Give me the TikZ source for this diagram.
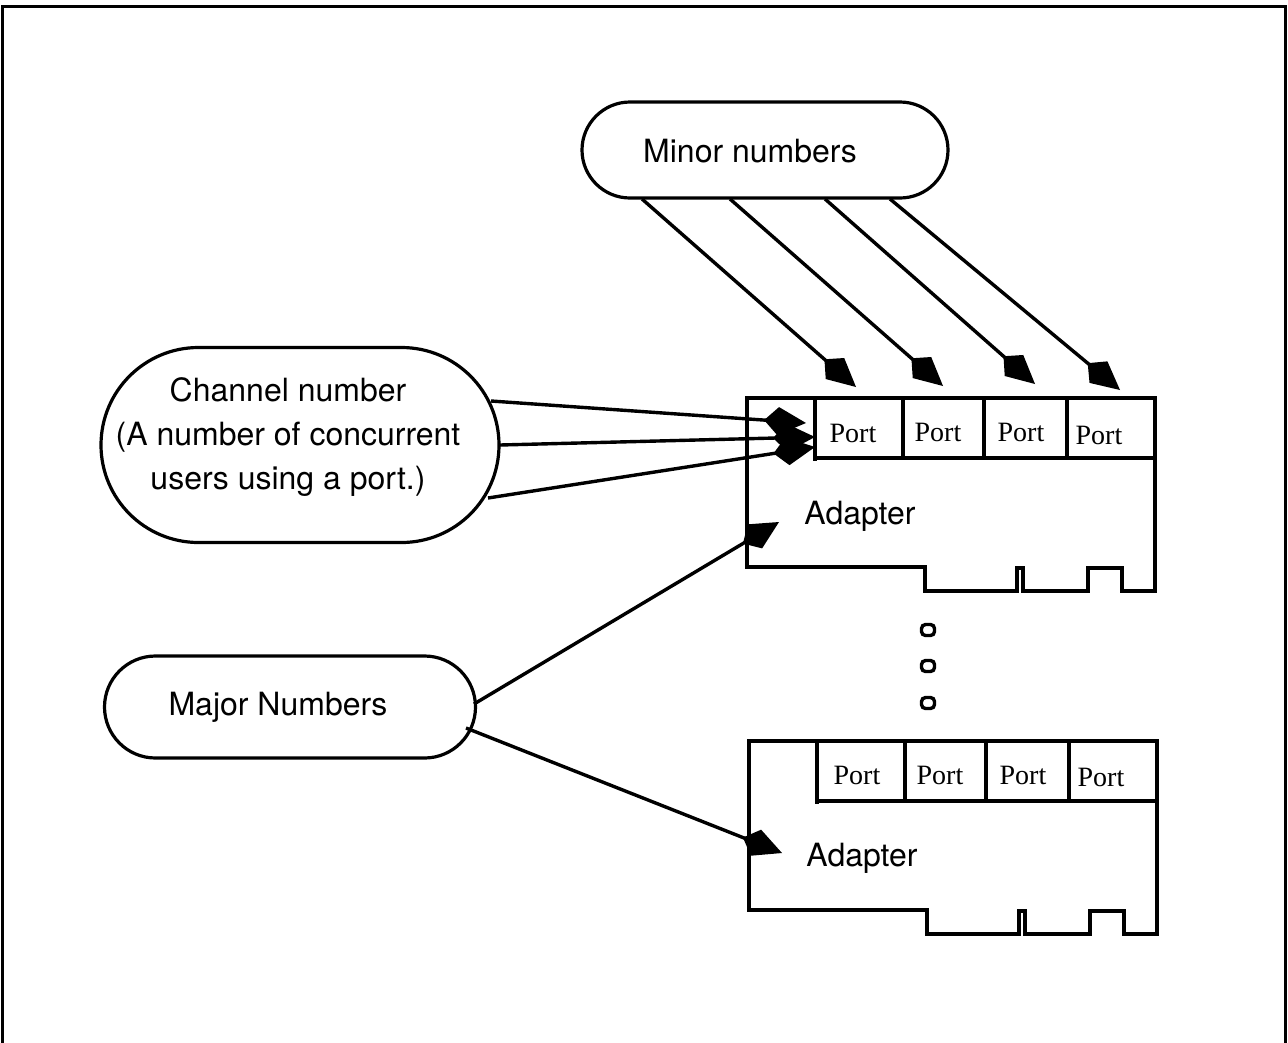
\documentclass[tikz,border=0pt]{standalone}
\usepackage{fontspec}
\setmainfont{TeX Gyre Heros}
\newfontfamily\portfont{Liberation Serif}
\usetikzlibrary{arrows.meta,shapes.misc}
\tikzset{
  blob/.style={draw, line width=3.2pt, rounded rectangle, inner sep=0pt},
  lbl/.style={font=\fontsize{32}{44}\selectfont, inner sep=0pt, align=center},
  portlbl/.style={font=\portfont\fontsize{28}{30}\selectfont, inner sep=0pt},
  arr/.style={line width=3.4pt, -{Kite[length=42pt,width=28pt,inset=14pt]}},
  boxline/.style={line width=3.2pt, line join=miter},
  dotbox/.style={draw, line width=3.4pt, rounded corners=4pt, minimum width=13pt, minimum height=11pt, inner sep=0pt},
}
\begin{document}
\begin{tikzpicture}[x=1pt,y=-1pt]
\useasboundingbox (0,0) rectangle (1288,1042);
% frame
\draw[line width=3pt] (2,1044) -- (2,6) -- (1285,6) -- (1285,1044);

% Minor numbers
\node[blob, minimum width=366pt, minimum height=96pt] (minor) at (765,150) {};
\node[lbl] (minortxt) at (750,151) {Minor numbers};

% Channel number
\node[blob, minimum width=398pt, minimum height=195pt] (chan) at (300,445) {};
\node[lbl] (chantxt) at (288,437) {Channel number\\(A number of concurrent\\users using a port.)};

% Major numbers
\node[blob, minimum width=371pt, minimum height=102pt] (major) at (290,707) {};
\node[lbl] (majortxt) at (278,707) {Major Numbers};

% Adapter 1
\draw[boxline] (747,398) -- (1155,398) -- (1155,591) -- (1122,591) -- (1122,568) -- (1088,568) -- (1088,591) -- (1023,591) -- (1023,568) -- (1017,568) -- (1017,591) -- (925,591) -- (925,567) -- (747,567) -- cycle;
\draw[boxline] (815,398) -- (815,461);
\draw[boxline] (815,458) -- (1155,458);
\foreach \x in {903,984,1067} \draw[boxline] (\x,398) -- (\x,458);
\node[portlbl] (pa1) at (853,433) {Port};
\node[portlbl] (pa2) at (938,432) {Port};
\node[portlbl] (pa3) at (1021,432) {Port};
\node[portlbl] (pa4) at (1099,435) {Port};
\node[lbl] (ada) at (860,516) {Adapter};

% Adapter 2
\begin{scope}[shift={(2,343)}]
\draw[boxline] (747,398) -- (1155,398) -- (1155,591) -- (1122,591) -- (1122,568) -- (1088,568) -- (1088,591) -- (1023,591) -- (1023,568) -- (1017,568) -- (1017,591) -- (925,591) -- (925,567) -- (747,567) -- cycle;
\draw[boxline] (815,398) -- (815,461);
\draw[boxline] (815,458) -- (1155,458);
\foreach \x in {903,984,1067} \draw[boxline] (\x,398) -- (\x,458);
\node[portlbl] (pb1) at (855,432) {Port};
\node[portlbl] (pb2) at (938,432) {Port};
\node[portlbl] (pb3) at (1021,432) {Port};
\node[portlbl] (pb4) at (1099,434) {Port};
\node[lbl] (adb) at (860,515) {Adapter};
\end{scope}

% dots
\node[dotbox] (d1) at (928,630) {};
\node[dotbox] (d2) at (928,666) {};
\node[dotbox] (d3) at (928,703) {};

% minor arrows
\coordinate (ms1) at (642,199);
\coordinate (ms2) at (730,199);
\coordinate (ms3) at (825,199);
\coordinate (ms4) at (890,199);
\coordinate (mt1) at (856,387);
\coordinate (mt2) at (943,386);
\coordinate (mt3) at (1035,384);
\coordinate (mt4) at (1120,390);
\draw[arr] (ms1) -- (mt1);
\draw[arr] (ms2) -- (mt2);
\draw[arr] (ms3) -- (mt3);
\draw[arr] (ms4) -- (mt4);

% channel arrows
\coordinate (cs1) at (491,401);
\coordinate (cs2) at (500,445);
\coordinate (cs3) at (488,498);
\coordinate (ct1) at (806,423);
\coordinate (ct2) at (815,437);
\coordinate (ct3) at (815,447);
\draw[arr] (cs1) -- (ct1);
\draw[arr] (cs2) -- (ct2);
\draw[arr] (cs3) -- (ct3);

% major arrows
\coordinate (js1) at (474,704);
\coordinate (js2) at (466,728);
\coordinate (jt1) at (779,522);
\coordinate (jt2) at (782,853);
\draw[arr] (js1) -- (jt1);
\draw[arr] (js2) -- (jt2);
\end{tikzpicture}
\end{document}
